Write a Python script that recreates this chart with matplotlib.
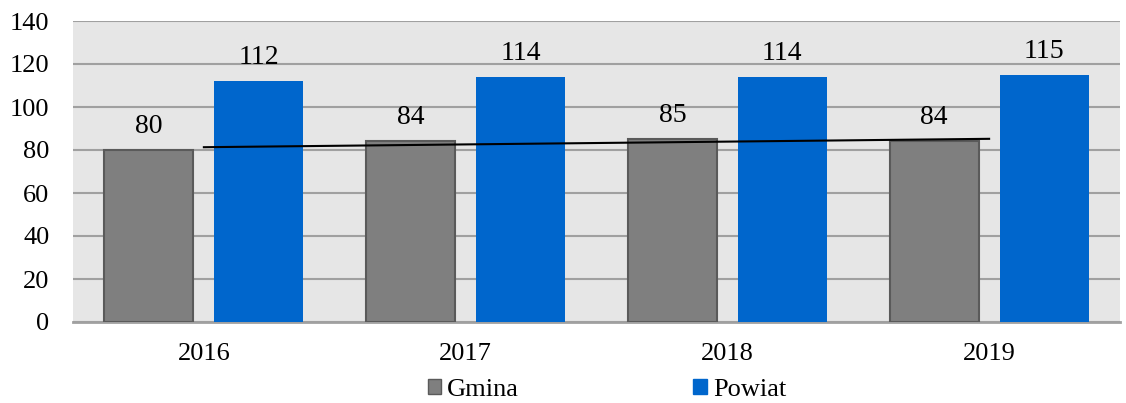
import numpy as np
import matplotlib.pyplot as plt
from matplotlib.patches import Patch

years = ['2016', '2017', '2018', '2019']
gmina = [80, 84, 85, 84]
powiat = [112, 114, 114, 115]
yticks = [0, 20, 40, 60, 80, 100, 120, 140]

plt.rcParams['font.family'] = ['Liberation Serif', 'DejaVu Serif']

fig = plt.figure(figsize=(11.26, 4.03), dpi=100)
ax = fig.add_axes([73 / 1126, 1 - 322 / 403, (1120 - 73) / 1126, (322 - 21) / 403])
ax.set_facecolor('#e6e6e6')

x = np.arange(len(years))
w = 0.34
off = 0.21
b1 = ax.bar(x - off, gmina, w, color='#7f7f7f', edgecolor='#5a5a5a', linewidth=1.5, zorder=3)
b2 = ax.bar(x + off, powiat, w, color='#0066cc', edgecolor='#0066cc', linewidth=0, zorder=3)

for bars, vals in ((b1, gmina), (b2, powiat)):
    for r, v in zip(bars, vals):
        ax.annotate(str(v), (r.get_x() + r.get_width() / 2, v), xytext=(0, 8),
                    textcoords='offset points', ha='center', va='bottom', fontsize=20, zorder=5)

# linear trend of Gmina
k, b = np.polyfit(x, gmina, 1)
ax.plot(x, k * x + b, color='black', linewidth=1.5, zorder=4)

ax.set_xlim(-0.5, len(years) - 0.5)
ax.set_ylim(0, 140)
ax.set_yticks(yticks)
ax.set_xticks(x)
ax.set_xticklabels(years)
ax.tick_params(axis='both', length=0, labelsize=19)
ax.tick_params(axis='x', pad=15)
ax.tick_params(axis='y', pad=17)
ax.grid(axis='y', color='#a0a0a0', linewidth=1.5, zorder=1)
for s in ['top', 'right', 'left']:
    ax.spines[s].set_visible(False)
ax.spines['bottom'].set_color('#a0a0a0')
ax.spines['bottom'].set_linewidth(2)
ax.spines['bottom'].set_zorder(2)

handles = [Patch(facecolor='#7f7f7f', edgecolor='#5a5a5a', label='Gmina'),
           Patch(facecolor='#0066cc', edgecolor='#0066cc', label='Powiat')]
fig.legend(handles=handles, loc='center', bbox_to_anchor=(607 / 1126, 1 - 390 / 403), ncol=2,
           frameon=False, prop={'family': 'Liberation Serif', 'size': 19},
           handlelength=0.5, handleheight=0.5, handletextpad=0.25, columnspacing=6.6)

fig.savefig('out.png', dpi=100)
